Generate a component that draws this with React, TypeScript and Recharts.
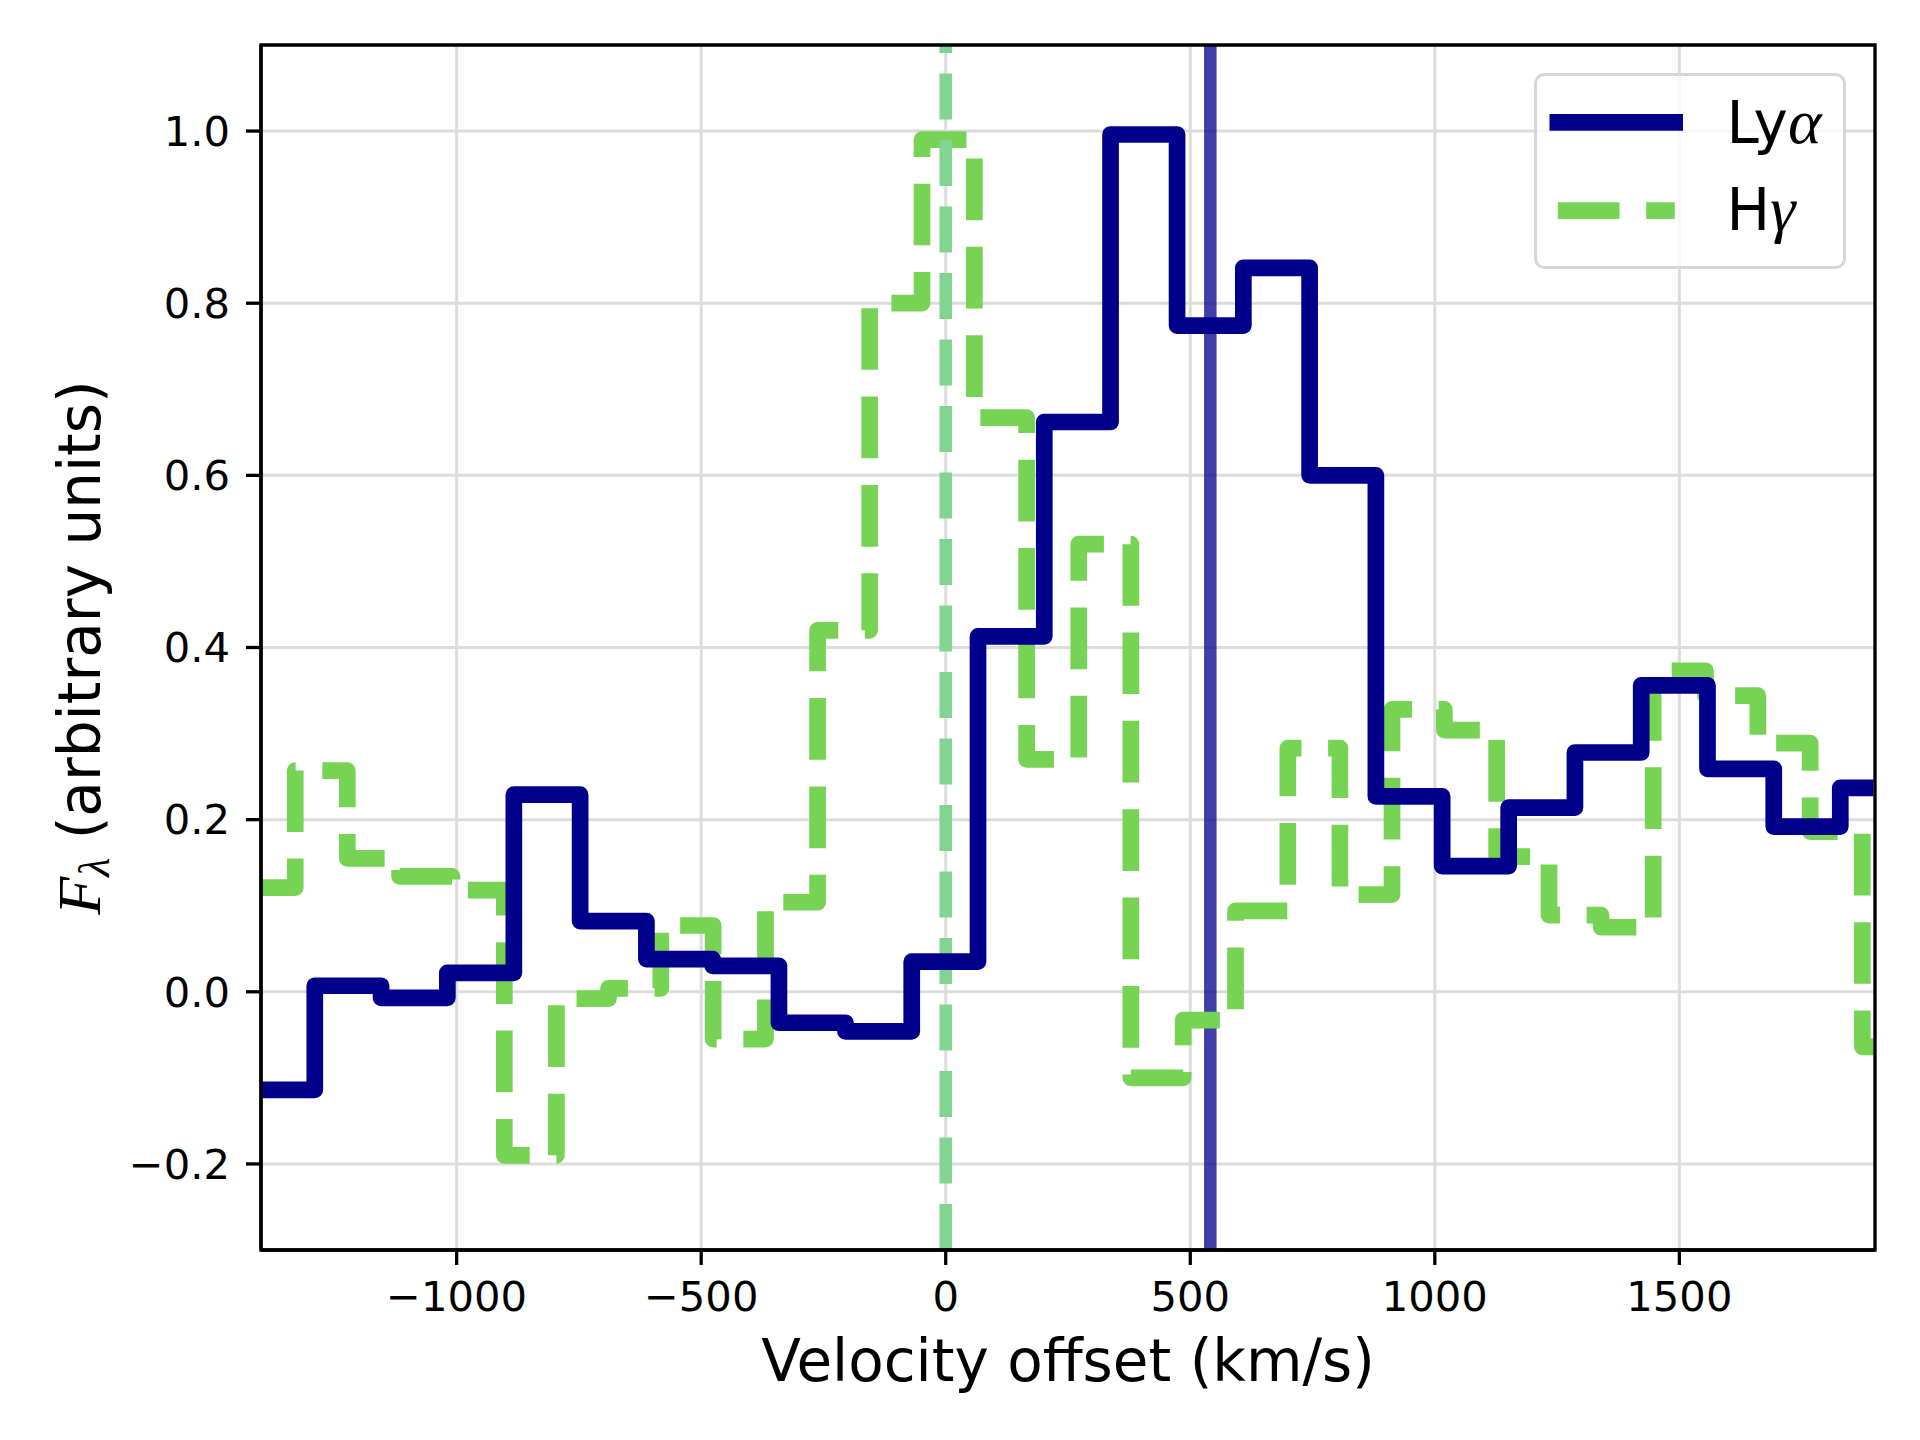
import React from "react";
import {
  LineChart, Line, XAxis, YAxis, CartesianGrid,
  ReferenceLine, ReferenceArea, Legend, Label,
} from "recharts";

// Lyα binned spectrum (bin centres, km/s) and normalised flux
const lyaVelocity = [
  -1493, -1358, -1222, -1087, -951, -815, -680, -544, -409, -273, -137, -2,
  134, 269, 405, 541, 676, 812, 947, 1083, 1219, 1354, 1490, 1625, 1761, 1897,
];
const lyaFlux = [
  -0.114, -0.114, 0.007, -0.007, 0.022, 0.229, 0.082, 0.038, 0.03, -0.036, -0.046, 0.035,
  0.413, 0.662, 0.996, 0.774, 0.841, 0.6, 0.227, 0.146, 0.214, 0.278, 0.356, 0.259, 0.192, 0.237,
];

// Hγ binned spectrum
const hgVelocity = [
  -1490, -1383, -1277, -1170, -1063, -956, -849, -743, -636, -529, -422, -315,
  -209, -102, 5, 112, 219, 325, 432, 539, 646, 753, 859, 966,
  1073, 1180, 1287, 1393, 1500, 1607, 1714, 1821, 1927,
];
const hgFlux = [
  0.121, 0.121, 0.257, 0.155, 0.134, 0.118, -0.19, -0.008, 0.004, 0.077, -0.055, 0.104,
  0.42, 0.8, 0.99, 0.667, 0.27, 0.52, -0.1, -0.033, 0.094, 0.283, 0.113, 0.328,
  0.304, 0.157, 0.089, 0.075, 0.373, 0.344, 0.289, 0.186, -0.064,
];

const systemicVelocity = 0;
const lyaPeakVelocity = 541;

const xDomain = [-1400, 1900];
const yDomain = [-0.3, 1.1];
const xTicks = [-1000, -500, 0, 500, 1000, 1500];
const yTicks = [-0.2, 0, 0.2, 0.4, 0.6, 0.8, 1.0];

const lyaData = lyaVelocity.map((v, i) => ({ v, flux: lyaFlux[i] }));
const hgData = hgVelocity.map((v, i) => ({ v, flux: hgFlux[i] }));

const FONT = "DejaVu Sans";
const MATH = "Liberation Serif";
const NAVY = "#00008b";
const GREEN = "#77d354";

const minus = (s: string) => s.replace("-", "\u2212");

function XLabel({ viewBox }: any) {
  return (
    <text
      x={viewBox.x + viewBox.width / 2}
      y={viewBox.y + 131}
      textAnchor="middle"
      fontSize={58}
      fontFamily={FONT}
      fill="#000"
    >
      Velocity offset (km/s)
    </text>
  );
}

function YLabel({ viewBox }: any) {
  const cx = viewBox.x - 11;
  const cy = viewBox.y + viewBox.height / 2;
  return (
    <text
      x={cx}
      y={cy}
      transform={`rotate(-90 ${cx} ${cy})`}
      textAnchor="middle"
      fontSize={58}
      fontFamily={FONT}
      fill="#000"
    >
      <tspan fontFamily={MATH} fontStyle="italic" fontSize={62}>F</tspan>
      <tspan fontFamily={MATH} fontStyle="italic" fontSize={44} dy={9}>λ</tspan>
      <tspan dy={-9}> (arbitrary units)</tspan>
    </text>
  );
}

function LegendBox() {
  return (
    <svg width={312} height={196} style={{ display: "block" }}>
      <rect x={1.5} y={1.5} width={309} height={193} rx={9}
        fill="#fff" fillOpacity={0.8} stroke="#d6d6d6" strokeWidth={3} />
      <line x1={15.5} x2={149} y1={49.3} y2={49.3} stroke={NAVY} strokeWidth={16.7} />
      <line x1={23.8} x2={140.8} y1={137.7} y2={137.7} stroke={GREEN}
        strokeWidth={16.7} strokeDasharray="61.7 26.7" />
      <text x={192.6} y={70.3} fontSize={58} fontFamily={FONT} fill="#000">
        Ly<tspan fontFamily={MATH} fontStyle="italic" fontSize={64}>α</tspan>
      </text>
      <text x={192.6} y={157} fontSize={58} fontFamily={FONT} fill="#000">
        H<tspan fontFamily={MATH} fontStyle="italic" fontSize={64}>γ</tspan>
      </text>
    </svg>
  );
}

export default function App() {
  return (
    <div style={{ position: "absolute", left: 0, top: 0, width: 1920, height: 1440, background: "#fff" }}>
      <LineChart
        width={1920}
        height={1440}
        margin={{ top: 45, right: 45, left: 111, bottom: 110 }}
        style={{ fontFamily: FONT }}
      >
        <CartesianGrid stroke="#dcdcdc" strokeWidth={3} />
        <XAxis
          type="number"
          dataKey="v"
          domain={xDomain}
          allowDataOverflow
          ticks={xTicks}
          interval={0}
          height={80}
          tickSize={15}
          tickMargin={16}
          tickFormatter={(v) => minus(String(v))}
          tick={{ fill: "#000", fontSize: 41.7, fontFamily: FONT }}
          axisLine={{ stroke: "#000", strokeWidth: 3.3 }}
          tickLine={{ stroke: "#000", strokeWidth: 3.3 }}
        >
          <Label content={XLabel} />
        </XAxis>
        <YAxis
          type="number"
          domain={yDomain}
          allowDataOverflow
          ticks={yTicks}
          interval={0}
          width={150}
          tickSize={15}
          tickMargin={16}
          tickFormatter={(v) => minus(v.toFixed(1))}
          tick={{ fill: "#000", fontSize: 41.7, fontFamily: FONT }}
          axisLine={{ stroke: "#000", strokeWidth: 3.3 }}
          tickLine={{ stroke: "#000", strokeWidth: 3.3 }}
        >
          <Label content={YLabel} />
        </YAxis>
        <ReferenceLine x={lyaPeakVelocity} stroke={NAVY} strokeOpacity={0.75}
          strokeWidth={12.5} zIndex={410} />
        <Line
          data={hgData}
          dataKey="flux"
          type="step"
          stroke={GREEN}
          strokeWidth={16.7}
          strokeDasharray="61.7 26.7"
          strokeDashoffset={42.8}
          strokeLinejoin="round"
          dot={false}
          activeDot={false}
          isAnimationActive={false}
          zIndex={420}
        />
        <ReferenceLine x={systemicVelocity} stroke="#82d491" strokeWidth={12.5}
          strokeDasharray="46 20.5" zIndex={450} />
        <Line
          data={lyaData}
          dataKey="flux"
          type="step"
          stroke={NAVY}
          strokeWidth={16.7}
          strokeLinejoin="round"
          dot={false}
          activeDot={false}
          isAnimationActive={false}
          zIndex={460}
        />
        <ReferenceArea x1={xDomain[0]} x2={xDomain[1]} y1={yDomain[0]} y2={yDomain[1]}
          fill="none" stroke="#000" strokeWidth={3.3} ifOverflow="visible" zIndex={600} />
        <Legend
          verticalAlign="middle"
          align="center"
          layout="horizontal"
          wrapperStyle={{ left: 1534, top: 73, width: 312, height: 196, margin: 0, padding: 0 }}
          content={() => <LegendBox />}
        />
      </LineChart>
    </div>
  );
}
